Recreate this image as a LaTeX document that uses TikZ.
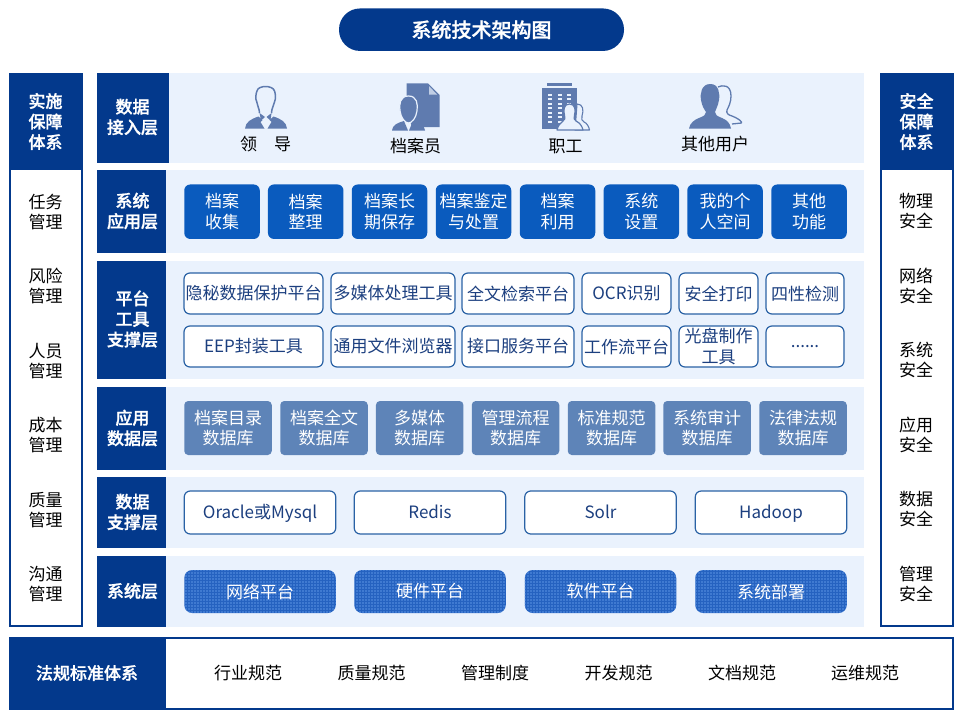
\documentclass[tikz,border=0pt]{standalone}
\usepackage{fontspec}
\setmainfont{Noto Sans CJK SC}[BoldFont={Noto Sans CJK SC Medium},BoldFeatures={FakeBold=1.2}]
\usetikzlibrary{patterns.meta}
\definecolor{navy}{HTML}{03398C}
\definecolor{band}{HTML}{EAF2FD}
\definecolor{appblue}{HTML}{0A5BBE}
\definecolor{dbblue}{HTML}{5E84B8}
\definecolor{icon}{HTML}{5F7BAF}
\definecolor{edge}{HTML}{2A62A5}
\definecolor{ink}{HTML}{1C3F7F}
\definecolor{sysblue}{HTML}{2562C0}
\definecolor{sysdot}{HTML}{5A94E4}
\tikzset{
  x=1pt,y=-1pt,
  cn/.style={font=\fontsize{17}{20.5}\selectfont,align=center,inner sep=0pt,text=#1},
  cn/.default=black,
  hd/.style={font=\fontsize{17}{20.5}\selectfont\bfseries,align=center,inner sep=0pt,text=white},
  hdbox/.style={fill=navy,draw=none,inner sep=0pt,outer sep=0pt},
  bandbox/.style={fill=band,draw=none},
  rbox/.style={rounded corners=6pt,inner sep=0pt,outer sep=0pt,align=center,font=\fontsize{17}{20.5}\selectfont},
  appbox/.style={rbox,fill=appblue,text=white,minimum width=75.5pt,minimum height=54.5pt},
  toolbox/.style={rbox,fill=white,draw=edge,line width=1.2pt,text=ink,minimum height=41pt},
  dbbox/.style={rbox,rounded corners=4pt,fill=dbblue,text=white,minimum width=87.5pt,minimum height=54pt},
  supbox/.style={rbox,fill=white,draw=edge,line width=1.2pt,text=ink,minimum width=151.5pt,minimum height=43pt,text height=14pt,text depth=2pt},
  sysbox/.style={rbox,rounded corners=8pt,text=white,minimum width=151.5pt,minimum height=43pt,
    preaction={fill=sysblue},pattern={Dots[distance=3pt,radius=0.85pt]},pattern color=sysdot},
  framebox/.style={draw=navy,line width=2pt,fill=white},
  ic/.style={fill=icon,draw=none},
  icl/.style={draw=icon,line width=1.4pt,fill=band,line join=round},
}
\begin{document}
\begin{tikzpicture}
\useasboundingbox (0,0) rectangle (963,720);
% title
\node[fill=navy,rounded corners=21pt,minimum width=285pt,minimum height=42.5pt,inner sep=0pt,
  text=white,font=\fontsize{20}{24}\selectfont\bfseries] (title) at (481.5,29.7) {系统技术架构图};
% side columns
\draw[framebox] (10,74) rectangle (82,626);
\fill[navy] (9,73) rectangle (83,169.5);
\node[hd] (lefth) at (45.5,121.5) {实施\\保障\\体系};
\draw[framebox] (881,74) rectangle (953,626);
\fill[navy] (880,73) rectangle (954,169.5);
\node[hd] (righth) at (916.5,121.5) {安全\\保障\\体系};
\node[cn] (l1) at (45.5,212) {任务\\管理};
\node[cn] (l2) at (45.5,286) {风险\\管理};
\node[cn] (l3) at (45.5,361) {人员\\管理};
\node[cn] (l4) at (45.5,435) {成本\\管理};
\node[cn] (l5) at (45.5,510) {质量\\管理};
\node[cn] (l6) at (45.5,584) {沟通\\管理};
\node[cn] (r1) at (916,211) {物理\\安全};
\node[cn] (r2) at (916,286) {网络\\安全};
\node[cn] (r3) at (916,360) {系统\\安全};
\node[cn] (r4) at (916,435) {应用\\安全};
\node[cn] (r5) at (916,509) {数据\\安全};
\node[cn] (r6) at (916,584) {管理\\安全};
% bands
\fill[bandbox] (97,73) rectangle (864,163);
\fill[bandbox] (97,170) rectangle (864,253);
\fill[bandbox] (97,261) rectangle (864,379);
\fill[bandbox] (97,387) rectangle (864,470);
\fill[bandbox] (97,477) rectangle (864,548);
\fill[bandbox] (97,556) rectangle (864,627);
% layer headers
\fill[hdbox] (97,73) rectangle (169,163);
\fill[hdbox] (97,170) rectangle (166,253);
\fill[hdbox] (97,261) rectangle (166,379);
\fill[hdbox] (97,387) rectangle (166,470);
\fill[hdbox] (97,477) rectangle (166,548);
\fill[hdbox] (97,556) rectangle (166,627);
\node[hd] (h1) at (132.5,117) {数据\\接入层};
\node[hd] (h2) at (132.5,211) {系统\\应用层};
\node[hd] (h3) at (132.5,319) {平台\\工具\\支撑层};
\node[hd] (h4) at (132.5,428) {应用\\数据层};
\node[hd] (h5) at (132.5,512) {数据\\支撑层};
\node[hd] (h6) at (132.5,591) {系统层};
% leader icon
\draw[icon,line width=1.5pt,line join=round] (259.5,113) .. controls (259.5,108) and (257,106) .. (256.8,102) .. controls (255,99) and (256,93) .. (257,91)
  .. controls (258,85) and (273,85) .. (274.5,91) .. controls (275.5,93) and (276,99) .. (274.5,102) .. controls (274,106) and (271.5,108) .. (271.5,113);
\fill[ic] (245,128.6) .. controls (245.5,122) and (251,119) .. (258.5,116.5) -- (262.5,120) -- (260.5,122) -- (264.5,128.6) -- cycle;
\fill[ic] (287,128.6) .. controls (286.5,122) and (281,119) .. (273.5,116.5) -- (269.5,120) -- (271.5,122) -- (267.5,128.6) -- cycle;
\fill[ic] (259.5,113) -- (265,117) -- (261,120.5) -- cycle;
\fill[ic] (271.5,113) -- (266.5,117) -- (270.5,120.5) -- cycle;
% archivist icon
\fill[ic] (406.7,83.3) -- (428,83.3) -- (439.5,95) -- (439.5,127) -- (412,127) -- (406.7,110) -- cycle;
\fill[band!70!icon] (429,86) -- (437,94.5) -- (429,94.5) -- cycle;
\fill[ic,draw=band,line width=1.2pt] (408.5,96) .. controls (417,96) and (418,104) .. (417,111) .. controls (416,118) and (412,123) .. (408.5,123) .. controls (405,123) and (401,118) .. (400,111) .. controls (399,104) and (400,96) .. (408.5,96) -- cycle;
\fill[ic] (392,130.5) .. controls (392.5,125) and (397,123) .. (404,121) -- (408,130.5) -- cycle;
\fill[ic] (425,130.5) .. controls (424.5,125) and (420,123) .. (413,121) -- (409,130.5) -- cycle;
% building icon
\fill[ic] (546.7,83.3) rectangle (571.7,86);
\fill[ic] (541.7,88.3) rectangle (576.7,129.3);
\foreach \wy in {93.5,98,102.5,107,111.5,116,120.5}{
  \fill[band] (548,\wy) rectangle +(4,2);
  \fill[band] (557.5,\wy) rectangle +(4,2);
  \fill[band] (566.5,\wy) rectangle +(4,2);
}
\draw[icl,line width=1.1pt] (577,104) .. controls (583,104) and (584,110) .. (582,116) .. controls (581,119) and (582,121) .. (584,122) .. controls (587,123) and (589,127) .. (589.5,130) -- (575,130) -- cycle;
\draw[icl,line width=1.2pt] (569.5,104) .. controls (575,104) and (576,110) .. (574.5,115) .. controls (573.5,118) and (574,120) .. (576,121) .. controls (580,123) and (582,126) .. (583,130) -- (557,130) .. controls (558,126) and (560,123) .. (563,121) .. controls (565,120) and (565.5,118) .. (564.5,115) .. controls (563,110) and (564,104) .. (569.5,104) -- cycle;
% users icon
\draw[draw=icon,line width=1.3pt,line join=round] (718,87) .. controls (722,85) and (731,84) .. (731,96) .. controls (731,102) and (729,106) .. (727,110) .. controls (726,113) and (728,115) .. (732,116) .. controls (737,118) and (740,120) .. (741.5,122) -- (741.5,123) -- (732,124);
\fill[ic] (710.5,84) .. controls (719,84) and (720,94) .. (719,100) .. controls (718,106) and (716,109) .. (715,112) .. controls (715,115) and (717,116) .. (722,118) .. controls (727,120) and (730,123) .. (731,128.5) -- (689,128.5) .. controls (690,123) and (694,120) .. (699,118) .. controls (704,116) and (706,115) .. (706,112) .. controls (704,109) and (702,106) .. (701,100) .. controls (700,94) and (701,84) .. (710.5,84) -- cycle;
% user labels
\node[cn] (u1) at (265.5,144) {领\hspace{1em}导};
\node[cn] (u2) at (415.5,146) {档案员};
\node[cn] (u3) at (565.5,146) {职工};
\node[cn] (u4) at (715,144) {其他用户};
% application layer
\node[appbox] (a1) at (222,211.7) {档案\\收集};
\node[appbox] (a2) at (305.7,211.7) {档案\\整理};
\node[appbox] (a3) at (389.5,211.7) {档案长\\期保存};
\node[appbox] (a4) at (473.5,211.7) {档案鉴定\\与处置};
\node[appbox] (a5) at (557.5,211.7) {档案\\利用};
\node[appbox] (a6) at (641.3,211.7) {系统\\设置};
\node[appbox] (a7) at (725,211.7) {我的个\\人空间};
\node[appbox] (a8) at (809,211.7) {其他\\功能};
% platform tools
\node[toolbox,minimum width=139pt] (t1) at (253.5,293.5) {隐秘数据保护平台};
\node[toolbox,minimum width=124pt] (t2) at (393,293.5) {多媒体处理工具};
\node[toolbox,minimum width=112pt] (t3) at (518,293.5) {全文检索平台};
\node[toolbox,minimum width=89pt] (t4) at (626.5,293.5) {OCR识别};
\node[toolbox,minimum width=79pt] (t5) at (718.5,293.5) {安全打印};
\node[toolbox,minimum width=78pt] (t6) at (805,293.5) {四性检测};
\node[toolbox,minimum width=139pt] (t7) at (253.5,346.5) {EEP封装工具};
\node[toolbox,minimum width=124pt] (t8) at (393,346.5) {通用文件浏览器};
\node[toolbox,minimum width=112pt] (t9) at (518,346.5) {接口服务平台};
\node[toolbox,minimum width=89pt] (t10) at (626.5,346.5) {工作流平台};
\node[toolbox,minimum width=79pt] (t11) at (718.5,346.5) {光盘制作\\工具};
\node[toolbox,minimum width=78pt] (t12) at (805,346.5) {\raisebox{-3pt}{......}};
% databases
\node[dbbox] (d1) at (228,428) {档案目录\\数据库};
\node[dbbox] (d2) at (324,428) {档案全文\\数据库};
\node[dbbox] (d3) at (419.7,428) {多媒体\\数据库};
\node[dbbox] (d4) at (515.5,428) {管理流程\\数据库};
\node[dbbox] (d5) at (611.5,428) {标准规范\\数据库};
\node[dbbox] (d6) at (707,428) {系统审计\\数据库};
\node[dbbox] (d7) at (803,428) {法律法规\\数据库};
% data support
\node[supbox] (s1) at (260,512.5) {Oracle或Mysql};
\node[supbox] (s2) at (430,512.5) {Redis};
\node[supbox] (s3) at (600.5,512.5) {Solr};
\node[supbox] (s4) at (771,512.5) {Hadoop};
% system layer
\node[sysbox] (y1) at (260,591.5) {网络平台};
\node[sysbox] (y2) at (430,591.5) {硬件平台};
\node[sysbox] (y3) at (600.5,591.5) {软件平台};
\node[sysbox] (y4) at (771,591.5) {系统部署};
% bottom
\draw[framebox] (10,638) rectangle (953,708.5);
\fill[navy] (9,637) rectangle (165.5,709.5);
\node[hd] (b0) at (87,673) {法规标准体系};
\node[cn] (b1) at (248,673) {行业规范};
\node[cn] (b2) at (371.5,673) {质量规范};
\node[cn] (b3) at (495,673) {管理制度};
\node[cn] (b4) at (618.5,673) {开发规范};
\node[cn] (b5) at (742,673) {文档规范};
\node[cn] (b6) at (865,673) {运维规范};
\end{tikzpicture}
\end{document}
